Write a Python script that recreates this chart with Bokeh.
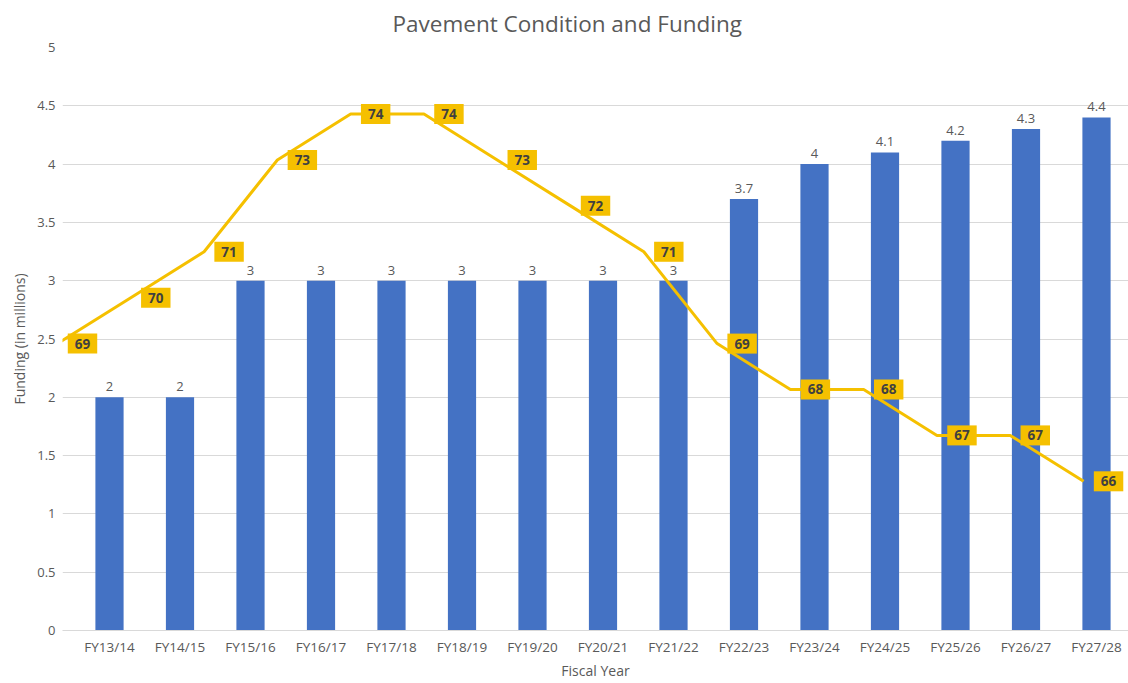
from bokeh.plotting import figure
from bokeh.models import Range1d, FixedTicker, SingleIntervalTicker, NumeralTickFormatter, ColumnDataSource
from bokeh.core.properties import value
from bokeh.embed import file_html
from bokeh.resources import INLINE

# ---- data ----
years = ["FY13/14", "FY14/15", "FY15/16", "FY16/17", "FY17/18", "FY18/19", "FY19/20",
         "FY20/21", "FY21/22", "FY22/23", "FY23/24", "FY24/25", "FY25/26", "FY26/27", "FY27/28"]
funding = [2, 2, 3, 3, 3, 3, 3, 3, 3, 3.7, 4, 4.1, 4.2, 4.3, 4.4]
funding_labels = ["2", "2", "3", "3", "3", "3", "3", "3", "3", "3.7", "4", "4.1", "4.2", "4.3", "4.4"]
pci = [69, 70, 71, 73, 74, 74, 73, 72, 71, 69, 68, 68, 67, 67, 66]
title_text = "Pavement Condition and Funding"
x_title = "Fiscal Year"
y_title = "Funding (in millions)"

FONT = "Open Sans"
GREY = "#595959"
BLUE = "#4472C4"
GOLD = "#F5C000"

idx = list(range(len(years)))

# layout anchors (canvas pixel coords) used to build the ranges
W, H = 1128, 683
frame_left, frame_right = 62, 1128
frame_top, frame_bottom = 46, 630
bar0, bar_step = 109, 70.5
line0, line_step = 57, 73.29

x_start = (frame_left - bar0) / bar_step
x_end = (frame_right - bar0) / bar_step
lx_start = (frame_left - line0) / line_step
lx_end = (frame_right - line0) / line_step

p = figure(width=W, height=H, output_backend="svg", toolbar_location=None,
           x_range=Range1d(x_start, x_end), y_range=Range1d(0, 5),
           min_border_left=frame_left, min_border_right=W - frame_right,
           min_border_top=frame_top, min_border_bottom=H - frame_bottom)
p.extra_x_ranges = {"lx": Range1d(lx_start, lx_end)}
p.extra_y_ranges = {"pci": Range1d(62.75, 75.45)}

p.outline_line_color = None
p.background_fill_color = "white"
p.border_fill_color = "white"

# title
p.title.text = title_text
p.title.align = "left"
p.title.offset = 330
p.title.vertical_align = "top"
p.title.standoff = 14
p.title.text_font = FONT
p.title.text_font_size = "22.5px"
p.title.text_font_style = "normal"
p.title.text_color = GREY

# bars
src = ColumnDataSource(dict(x=idx, y=funding, lab=funding_labels))
p.vbar(x="x", top="y", width=0.4, source=src, fill_color=BLUE, line_color=None)
p.text(x="x", y="y", text="lab", source=src, text_align="center", text_baseline="bottom",
       y_offset=-6, text_font=value(FONT), text_font_size="13px", text_color=GREY)

# PCI line
lsrc = ColumnDataSource(dict(x=idx, y=pci, lab=[str(v) for v in pci]))
p.line(x="x", y="y", source=lsrc, x_range_name="lx", y_range_name="pci",
       line_color=GOLD, line_width=3)
p.text(x="x", y="y", text="lab", source=lsrc, x_range_name="lx", y_range_name="pci",
       x_offset=25, text_align="center", text_baseline="middle",
       text_font=value(FONT), text_font_size="13.5px", text_font_style="bold",
       text_color="#404040", background_fill_color=GOLD, padding=[7, 5])

# axes
p.xaxis.ticker = FixedTicker(ticks=idx)
p.xaxis.major_label_overrides = {i: y for i, y in zip(idx, years)}
p.xaxis.axis_label = x_title
p.xaxis.axis_line_color = "#D9D9D9"
p.xaxis.major_tick_line_color = None
p.xaxis.minor_tick_line_color = None
p.xaxis.major_tick_out = 0
p.xaxis.major_tick_in = 0
p.xaxis.minor_tick_out = 0
p.xaxis.minor_tick_in = 0
p.xaxis.major_label_text_font = FONT
p.xaxis.major_label_text_font_size = "13.5px"
p.xaxis.major_label_text_color = GREY
p.xaxis.major_label_standoff = 7
p.xaxis.axis_label_text_font = FONT
p.xaxis.axis_label_text_font_size = "14px"
p.xaxis.axis_label_text_font_style = "normal"
p.xaxis.axis_label_text_color = GREY
p.xaxis.axis_label_standoff = 2

p.yaxis.ticker = SingleIntervalTicker(interval=0.5)
p.yaxis.formatter = NumeralTickFormatter(format="0.[0]")
p.yaxis.axis_label = y_title
p.yaxis.axis_line_color = None
p.yaxis.major_tick_line_color = None
p.yaxis.minor_tick_line_color = None
p.yaxis.major_tick_out = 0
p.yaxis.major_tick_in = 0
p.yaxis.minor_tick_out = 0
p.yaxis.minor_tick_in = 0
p.yaxis.major_label_text_font = FONT
p.yaxis.major_label_text_font_size = "13px"
p.yaxis.major_label_text_color = GREY
p.yaxis.major_label_standoff = 7
p.yaxis.axis_label_text_font = FONT
p.yaxis.axis_label_text_font_size = "14px"
p.yaxis.axis_label_text_font_style = "normal"
p.yaxis.axis_label_text_color = GREY
p.yaxis.axis_label_standoff = 5

p.xgrid.grid_line_color = None
p.ygrid.grid_line_color = "#D9D9D9"
p.ygrid.ticker = SingleIntervalTicker(interval=0.5)

open("out.html", "w").write(file_html(p, INLINE))
